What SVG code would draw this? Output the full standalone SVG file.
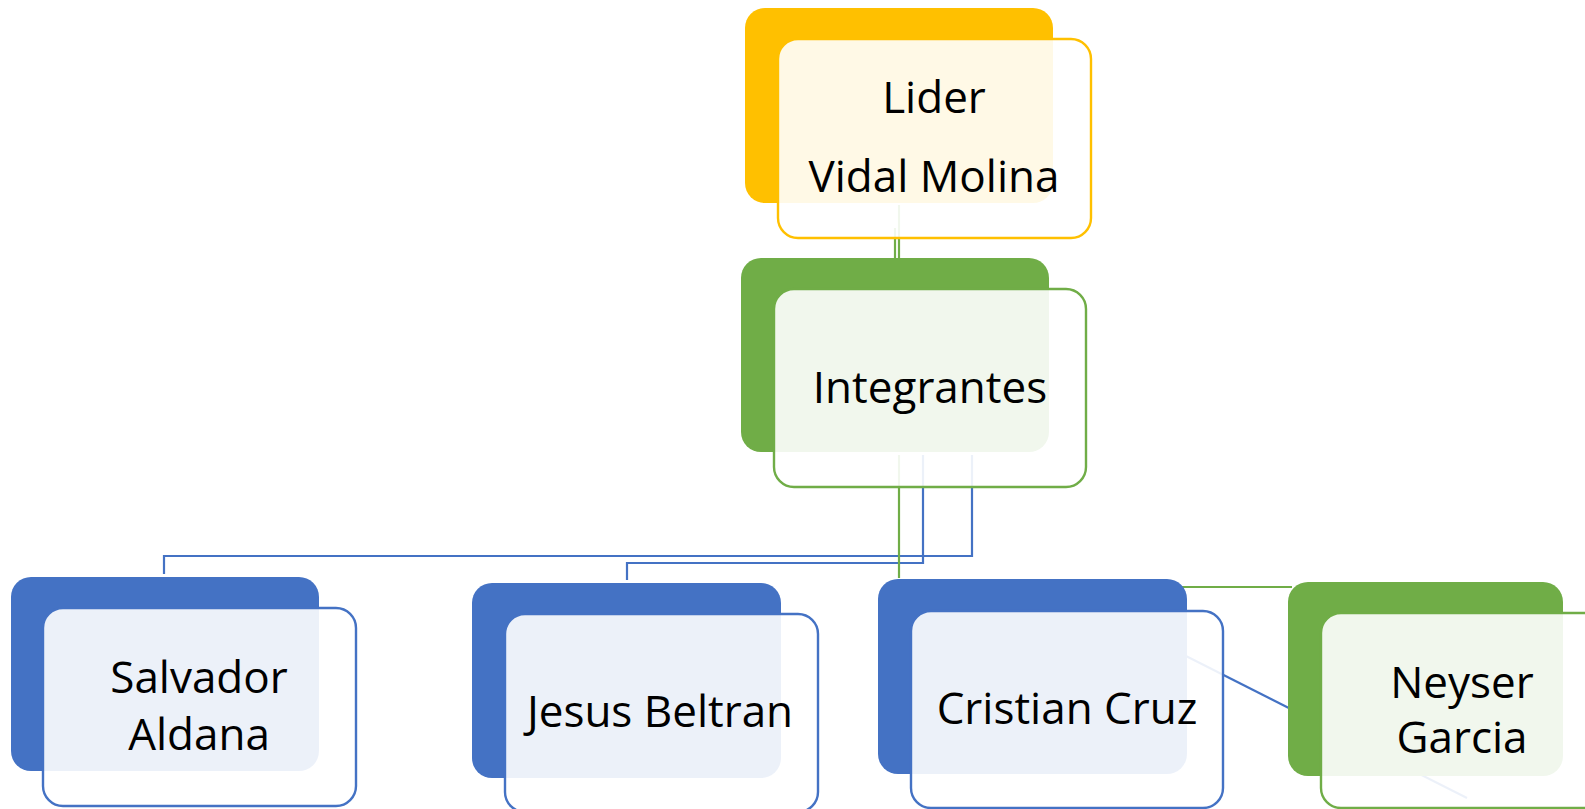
<svg xmlns="http://www.w3.org/2000/svg" width="1585" height="809" viewBox="0 0 1585 809">
<style>
.t{font-family:"Open Sans","Noto Sans","Liberation Sans",sans-serif;font-size:44px;fill:#000;text-anchor:middle}
.front{fill:#fff;fill-opacity:0.9;stroke-width:2.4}
.cb{fill:none;stroke:#4472C4;stroke-width:2.2}
.cg{fill:none;stroke:#70AD47;stroke-width:2.2}
</style>
<rect width="1585" height="809" fill="#fff"/>
<g id="connectors">
<line class="cg" x1="899" y1="205" x2="899" y2="258"/>
<line class="cg" x1="895" y1="228" x2="895" y2="258"/>
<polyline class="cb" points="972,455 972,556 164,556 164,574"/>
<polyline class="cb" points="923,455 923,563 627,563 627,580"/>
<line class="cg" x1="899" y1="455" x2="899" y2="578"/>
<line class="cg" x1="1180" y1="587" x2="1292" y2="587"/>
<line class="cb" x1="1180" y1="653" x2="1467" y2="798"/>
</g>
<g id="lider">
<rect x="745" y="8" width="308" height="195" rx="20" fill="#FFC000"/>
<rect class="front" x="778" y="39" width="313" height="199" rx="20" stroke="#FFC000"/>
<text class="t" x="934" y="113">Lider</text>
<text class="t" x="934" y="192">Vidal Molina</text>
</g>
<g id="integrantes">
<rect x="741" y="258" width="308" height="194" rx="20" fill="#70AD47"/>
<rect class="front" x="774" y="289" width="312" height="198" rx="20" stroke="#70AD47"/>
<text class="t" x="930" y="403">Integrantes</text>
</g>
<g id="salvador">
<rect x="11" y="577" width="308" height="194" rx="20" fill="#4472C4"/>
<rect class="front" x="43" y="608" width="313" height="198" rx="20" stroke="#4472C4"/>
<text class="t" x="199" y="693">Salvador</text>
<text class="t" x="199" y="750">Aldana</text>
</g>
<g id="jesus">
<rect x="472" y="583" width="309" height="195" rx="20" fill="#4472C4"/>
<rect class="front" x="505" y="614" width="313" height="198" rx="20" stroke="#4472C4"/>
<text class="t" x="660" y="727">Jesus Beltran</text>
</g>
<g id="cristian">
<rect x="878" y="579" width="309" height="195" rx="20" fill="#4472C4"/>
<rect class="front" x="911" y="611" width="312" height="197" rx="20" stroke="#4472C4"/>
<text class="t" x="1067" y="724">Cristian Cruz</text>
</g>
<g id="neyser">
<rect x="1288" y="582" width="275" height="194" rx="20" fill="#70AD47"/>
<rect class="front" x="1321" y="613" width="313" height="195" rx="20" stroke="#70AD47"/>
<text class="t" x="1462" y="698">Neyser</text>
<text class="t" x="1462" y="753">Garcia</text>
</g>
</svg>
